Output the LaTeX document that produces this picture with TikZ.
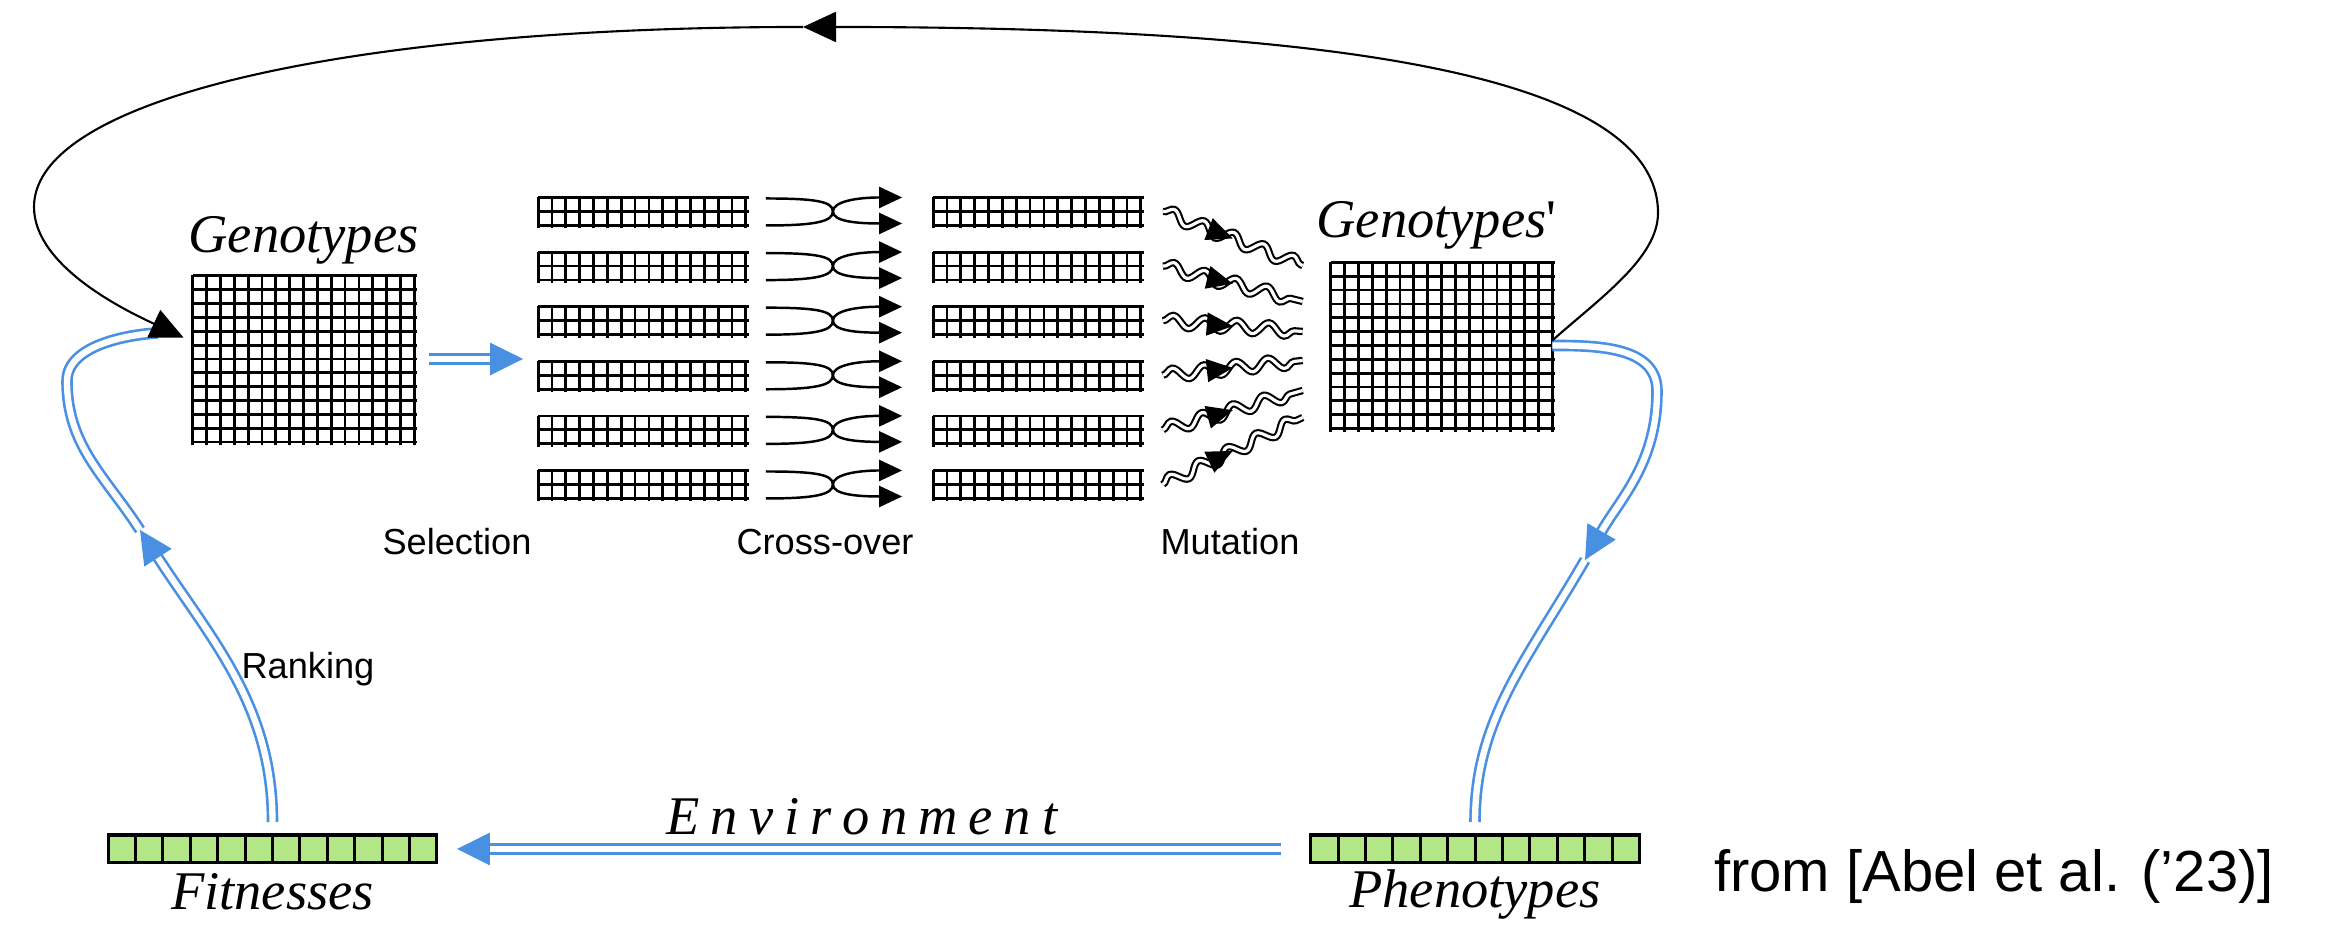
\documentclass[tikz,border=0pt]{standalone}
\usepackage{fontspec}
\setmainfont{Liberation Serif}
\setsansfont{Liberation Sans}
\usetikzlibrary{arrows.meta,decorations.pathmorphing,decorations.markings}
\definecolor{kblue}{RGB}{74,144,226}
\definecolor{kgreen}{RGB}{178,230,134}
\def\cel{0.1385}
\newcommand{\cellgrid}[3]{\draw[gln, shift={(#1.south west)}] (0,-0.03) grid[step=\cel] ({#2*\cel+0.03},{#3*\cel+0.005});}
\newcommand{\lsp}{\kern0.2em}
\tikzset{%
    gen/.style={inner sep=0pt, outer sep=0pt, minimum width=2.216cm, minimum height=1.662cm},
    chrom/.style={inner sep=0pt, outer sep=0pt, minimum width=2.0775cm, minimum height=0.277cm},
    bar/.style={draw, fill=kgreen, line width=0.85pt, inner sep=0pt, outer sep=0pt, minimum width=3.288cm, minimum height=0.28cm},
    gln/.style={line width=0.8pt},
    xln/.style={line width=0.7pt, -{Triangle[length=2.3mm,width=2.1mm]}},
    mut/.style={double, line width=0.6pt, double distance=0.9pt, decorate, decoration={snake, amplitude=0.6mm, segment length=3.2mm}},
    midarr/.style={decoration={markings, mark=at position 0.5 with {\arrow{Triangle[length=2.6mm,width=2.3mm]}}}, decorate},
    bl/.style={draw=kblue, double=white, line width=0.75pt, double distance=1.8pt},
    bla/.style={bl, -{Triangle[length=3.3mm,width=3.2mm]}},
    lp/.style={line width=0.6pt},
    lpa/.style={lp, -{Triangle[length=3.3mm,width=3mm]}},
    gt/.style={font=\fontsize{15.5pt}{18pt}\selectfont\itshape, inner sep=0pt},
    op/.style={font=\sffamily\fontsize{10.3pt}{12pt}\selectfont, inner sep=0pt},
}

\begin{document}
\begin{tikzpicture}
    \useasboundingbox (0,0) rectangle (23.35,9.28);
    \node[gen] (geno) at (3.035,5.69) {};
    \node[gen] (genop) at (14.415,5.825) {};
    \cellgrid{geno}{16}{12}
    \cellgrid{genop}{16}{12}
    \node[gt, anchor=base] (genolbl) at ([yshift=0.23cm]geno.north) {Genotypes};
    \node[gt, anchor=base] (genoplbl) at ([shift={(-0.05,0.25)}]genop.north) {Genotypes{\upshape\textquotesingle}};
    \foreach \i/\dy in {1/0.80,2/0.44,3/0.14,4/-0.15,5/-0.45,6/-0.72}{
        \node[chrom] (sel\i) at (6.42,{7.165-0.546*(\i-1)}) {};
        \node[chrom] (off\i) at (10.37,{7.165-0.546*(\i-1)}) {};
        \cellgrid{sel\i}{15}{2}
        \cellgrid{off\i}{15}{2}
        \draw[xln] ([shift={(0.2,0.13)}]sel\i.east) .. controls +(0.5,0) and +(0,0.1) .. ([xshift=0.87cm]sel\i.east) .. controls +(0,-0.1) and +(-0.45,0) .. ([shift={(-0.31,-0.12)}]off\i.west);
        \draw[xln] ([shift={(0.2,-0.14)}]sel\i.east) .. controls +(0.5,0) and +(0,-0.1) .. ([xshift=0.87cm]sel\i.east) .. controls +(0,0.1) and +(-0.45,0) .. ([shift={(-0.31,0.14)}]off\i.west);
        \draw[mut] ([xshift=0.22cm]off\i.east) -- ([shift={(-0.28,\dy)}]genop.west);
        \path[midarr] ([xshift=0.22cm]off\i.east) -- ([shift={(-0.28,\dy)}]genop.west);
    }
    \node[op, anchor=base] (sellbl) at (4.57,3.73) {Selection};
    \node[op, anchor=base] (xlbl) at (8.25,3.73) {Cross-over};
    \node[op, anchor=base] (mutlbl) at (12.30,3.73) {Mutation};
    \node[bar] (fit) at (2.725,0.79) {};
    \node[bar] (pheno) at (14.75,0.79) {};
    \foreach \b in {fit,pheno}
        \draw[line width=0.85pt, shift={(\b.south west)}] (0,0) grid[xstep=0.274,ystep=0.28] (3.289,0.28);
    \node[gt, anchor=base] (fitlbl) at ([yshift=-0.47cm]fit.south) {Fitnesses};
    \node[gt, anchor=base] (phenolbl) at ([yshift=-0.45cm]pheno.south) {Phenotypes};
    \node[gt, anchor=base] (envlbl) at (8.62,0.93) {E\lsp n\lsp v\lsp i\lsp r\lsp o\lsp n\lsp m\lsp e\lsp n\lsp t};
    \node[op, anchor=base] (ranklbl) at (3.08,2.49) {Ranking};
    \node[font=\sffamily\fontsize{16.5pt}{20pt}\selectfont, inner sep=0pt, anchor=base] (cite) at (19.94,0.36) {from [Abel et al. (’23)]};
    \draw[bla, shorten <=0.15cm, shorten >=0.15cm] (geno.east) -- (geno.east -| sel1.west);
    \draw[bla, shorten <=0.3cm, shorten >=0.2cm] (pheno.west) -- (fit.east);
    \coordinate (rkmid) at (1.40,3.98);
    \coordinate (rkturn) at (0.67,5.47);
    \draw[bla, shorten <=0.13cm] (fit.north) to[out=90,in=-57] (rkmid);
    \draw[bl, shorten >=0.35cm] (rkmid) to[out=123,in=-90] (rkturn) to[out=90,in=180,looseness=0.8] ([yshift=0.26cm]geno.west);
    \coordinate (phturn) at (16.57,5.37);
    \coordinate (phmid) at (15.85,3.68);
    \draw[bla] (genop.east) to[out=0,in=90] (phturn) to[out=-90,in=60] (phmid);
    \draw[bl, shorten >=0.13cm] (phmid) to[out=240,in=90] (pheno.north);
    \coordinate (loopR) at (16.58,7.15);
    \coordinate (looptop) at (8.03,9.01);
    \coordinate (loopL) at (0.34,7.21);
    \draw[lpa] ([yshift=0.05cm]genop.east) .. controls (16.0,6.3) and (16.58,6.7) .. (loopR) .. controls (16.58,8.6) and (13.0,9.01) .. (looptop);
    \draw[lpa, shorten >=0.1cm] (looptop) .. controls (3.5,9.01) and (0.34,8.3) .. (loopL) .. controls (0.34,6.6) and (1.31,6.15) .. ([yshift=0.17cm]geno.west);
\end{tikzpicture}
\end{document}
